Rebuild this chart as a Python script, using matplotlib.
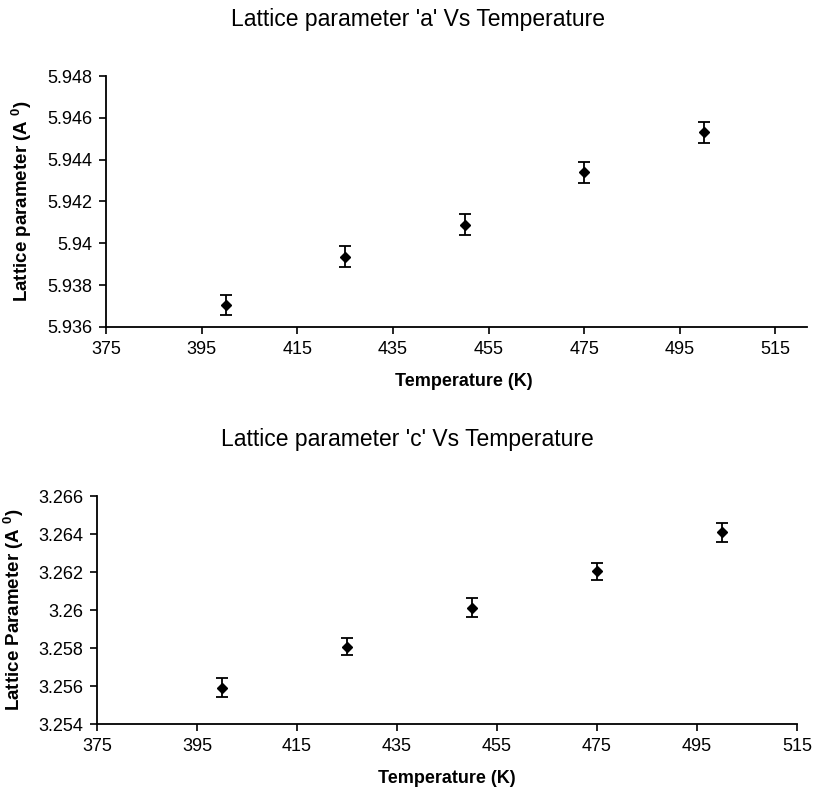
import matplotlib
matplotlib.use("Agg")
import matplotlib.pyplot as plt

plt.rcParams["font.family"] = ["Liberation Sans", "DejaVu Sans"]

# temperatures (K)
temperature = [400, 425, 450, 475, 500]

# lattice parameter a (A^0) and its error
lat_a = [5.93705, 5.93935, 5.94088, 5.9434, 5.94532]
err_a = [0.0005, 0.0005, 0.0005, 0.0005, 0.0005]

# lattice parameter c (A^0) and its error
lat_c = [3.25592, 3.25806, 3.26013, 3.26203, 3.26408]
err_c = [0.00052, 0.00045, 0.0005, 0.00045, 0.00052]

x_ticks = [375, 395, 415, 435, 455, 475, 495, 515]
a_ticks = [5.936, 5.938, 5.94, 5.942, 5.944, 5.946, 5.948]
a_labels = ["5.936", "5.938", "5.94", "5.942", "5.944", "5.946", "5.948"]
c_ticks = [3.254, 3.256, 3.258, 3.26, 3.262, 3.264, 3.266]
c_labels = ["3.254", "3.256", "3.258", "3.26", "3.262", "3.264", "3.266"]

fig = plt.figure(figsize=(8.18, 7.95), dpi=100)

ax1 = fig.add_axes([0.1296, 0.5887, 0.8570, 0.3157])
ax2 = fig.add_axes([0.1186, 0.0893, 0.8557, 0.2868])


def style(ax, yt, yl, xmax):
    ax.set_xlim(375, xmax)
    ax.set_ylim(yt[0], yt[-1])
    ax.set_xticks(x_ticks)
    ax.set_xticklabels([str(v) for v in x_ticks])
    ax.set_yticks(yt)
    ax.set_yticklabels(yl)
    for s in ["top", "right"]:
        ax.spines[s].set_visible(False)
    for s in ["left", "bottom"]:
        ax.spines[s].set_linewidth(1.3)
        ax.spines[s].set_color("black")
    ax.tick_params(direction="out", length=5, width=1.2, labelsize=13, pad=5)


ax1.errorbar(temperature, lat_a, yerr=err_a, fmt="D", color="black",
             markersize=5, capsize=4, elinewidth=1.3, capthick=1.3, clip_on=False)
style(ax1, a_ticks, a_labels, 521.6)
ax1.set_title("Lattice parameter 'a' Vs Temperature", fontsize=16.5, pad=36, x=0.445)
ax1.set_xlabel("Temperature (K)", fontsize=13, fontweight="bold", labelpad=11, x=0.511)
ax1.set_ylabel("Lattice parameter (A $^{\\mathregular{0}}$)", fontsize=13.5,
               fontweight="bold", labelpad=9)

ax2.errorbar(temperature, lat_c, yerr=err_c, fmt="D", color="black",
             markersize=5, capsize=4, elinewidth=1.3, capthick=1.3, clip_on=False)
style(ax2, c_ticks, c_labels, 515)
ax2.set_title("Lattice parameter 'c' Vs Temperature", fontsize=16.5, pad=36, x=0.443)
ax2.set_xlabel("Temperature (K)", fontsize=13, fontweight="bold", labelpad=11)
ax2.set_ylabel("Lattice Parameter (A $^{\\mathregular{0}}$)", fontsize=13.5,
               fontweight="bold", labelpad=9)

fig.savefig("out.png", dpi=100, facecolor="white")
